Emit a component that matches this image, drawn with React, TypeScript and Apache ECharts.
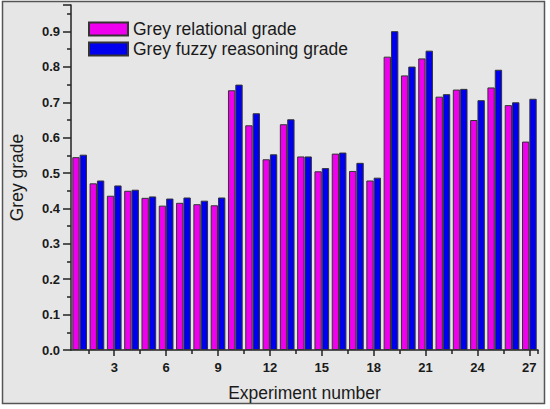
import React, { useEffect, useRef } from "react";
import * as echarts from "echarts";

const categories = Array.from({ length: 27 }, (_, i) => String(i + 1));
const relationalGrade = [
  0.545, 0.471, 0.436, 0.45, 0.43, 0.408, 0.416, 0.412, 0.409,
  0.734, 0.635, 0.539, 0.638, 0.547, 0.505, 0.555, 0.506, 0.479,
  0.829, 0.776, 0.824, 0.716, 0.736, 0.65, 0.742, 0.692, 0.589,
];
const fuzzyGrade = [
  0.552, 0.479, 0.465, 0.453, 0.434, 0.428, 0.431, 0.422, 0.431,
  0.75, 0.669, 0.553, 0.652, 0.547, 0.514, 0.558, 0.529, 0.487,
  0.901, 0.801, 0.846, 0.723, 0.738, 0.706, 0.792, 0.7, 0.71,
];
const seriesNames = ["Grey relational grade", "Grey fuzzy reasoning grade"];

const FONT = "'Liberation Sans', Arial, sans-serif";

export default function App() {
  const ref = useRef<HTMLDivElement>(null);
  useEffect(() => {
    if (!ref.current) return;
    const chart = echarts.init(ref.current, undefined, { renderer: "svg" });
    const axisColor = "#222";
    chart.setOption({
      animation: false,
      backgroundColor: "#ffffff",
      textStyle: { fontFamily: FONT },
      graphic: [
        {
          type: "rect",
          z: -10,
          silent: true,
          shape: { x: 2.5, y: 1.5, width: 542, height: 402 },
          style: { fill: "#e6e6e6", stroke: "#555", lineWidth: 1.5 },
        },
      ],
      grid: { left: 71, right: 12, top: 5, bottom: 59, containLabel: false },
      legend: {
        orient: "vertical",
        left: 88,
        top: 20,
        padding: 0,
        itemWidth: 39,
        itemHeight: 13,
        itemGap: 2,
        icon: "rect",
        textStyle: { fontSize: 17.5, lineHeight: 17, color: "#1a1a1a", fontFamily: FONT },
        data: seriesNames,
      },
      xAxis: [
        {
          type: "category",
          data: categories,
          position: "bottom",
          name: "Experiment number",
          nameLocation: "middle",
          nameGap: 34,
          nameTextStyle: { fontSize: 17.5, color: "#1a1a1a", fontFamily: FONT },
          axisLine: { show: true, lineStyle: { color: axisColor, width: 1.5 } },
          axisTick: {
            show: true,
            alignWithLabel: true,
            length: 6,
            interval: (i: number) => i % 3 === 2,
            lineStyle: { color: axisColor, width: 1.5 },
          },
          axisLabel: {
            interval: (i: number) => i % 3 === 2,
            margin: 11,
            fontSize: 13,
            fontWeight: "bold",
            color: "#1a1a1a",
            fontFamily: FONT,
          },
          splitLine: { show: false },
        },
        {
          type: "category",
          data: categories,
          position: "bottom",
          axisLine: { show: false },
          axisTick: {
            show: true,
            length: 4,
            interval: (i: number) => i % 3 === 1,
            lineStyle: { color: axisColor, width: 1.5 },
          },
          axisLabel: { show: false },
          splitLine: { show: false },
        },
      ],
      yAxis: {
        type: "value",
        min: 0,
        max: 0.975,
        interval: 0.1,
        name: "Grey grade",
        nameLocation: "middle",
        nameGap: 45,
        nameTextStyle: { fontSize: 17.5, color: "#1a1a1a", fontFamily: FONT },
        axisLine: { show: true, lineStyle: { color: axisColor, width: 1.5 } },
        axisTick: { show: true, length: 8, lineStyle: { color: axisColor, width: 1.5 } },
        minorTick: { show: true, splitNumber: 2, length: 4, lineStyle: { color: axisColor, width: 1.5 } },
        axisLabel: {
          margin: 11,
          fontSize: 13,
          fontWeight: "bold",
          color: "#1a1a1a",
          fontFamily: FONT,
          formatter: (v: number) => (v > 0.95 ? "" : v.toFixed(1)),
        },
        splitLine: { show: false },
        minorSplitLine: { show: false },
      },
      series: [
        {
          name: seriesNames[0],
          type: "bar",
          xAxisIndex: 0,
          data: relationalGrade,
          barGap: "0%",
          barCategoryGap: "15%",
          itemStyle: { color: "#ee00ee", borderColor: "#333", borderWidth: 1 },
        },
        {
          name: seriesNames[1],
          type: "bar",
          xAxisIndex: 0,
          data: fuzzyGrade,
          barGap: "0%",
          barCategoryGap: "15%",
          itemStyle: { color: "#0000ee", borderColor: "#333", borderWidth: 1 },
        },
      ],
    });
    return () => chart.dispose();
  }, []);
  return (
    <div
      ref={ref}
      style={{ position: "fixed", left: 0, top: 0, width: 550, height: 409 }}
    />
  );
}
